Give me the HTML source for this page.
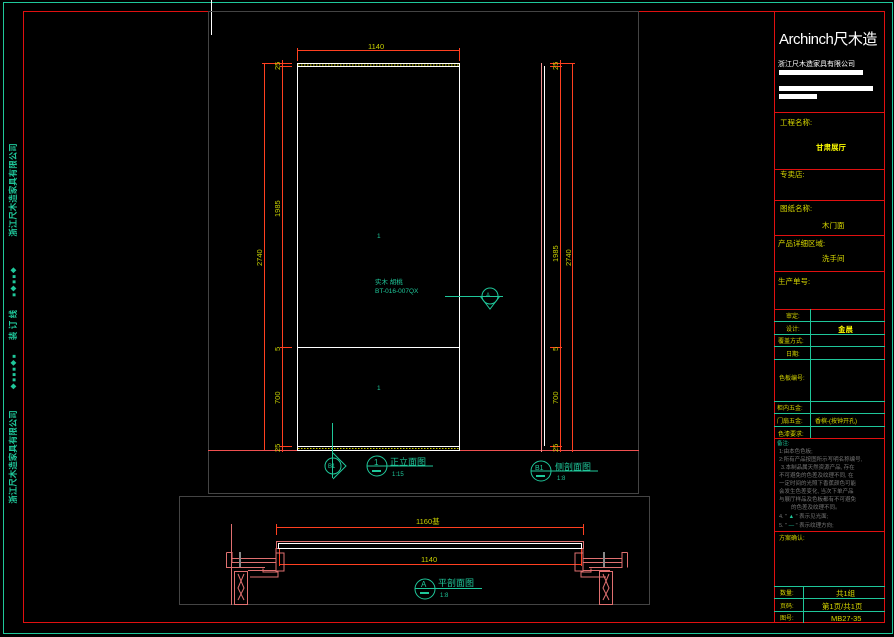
<!DOCTYPE html>
<html><head><meta charset="utf-8"><style>
html,body{margin:0;padding:0;background:#000;width:894px;height:637px;overflow:hidden}
svg{display:block}
text{font-family:"Liberation Sans","Noto Sans CJK SC",sans-serif}
</style></head><body>
<svg width="894" height="637" viewBox="0 0 894 637" xmlns="http://www.w3.org/2000/svg">
<!-- borders -->
<rect x="3.5" y="2.5" width="889" height="631" fill="none" stroke="#1fc79a" stroke-width="1"/>
<rect x="23.5" y="11.5" width="861" height="611" fill="none" stroke="#e01010" stroke-width="1"/>
<line x1="211.5" y1="0" x2="211.5" y2="35" stroke="#fff"/>
<rect x="208.5" y="11.5" width="430" height="482" fill="none" stroke="#444"/>
<rect x="179.5" y="496.5" width="470" height="108" fill="none" stroke="#444"/>

<!-- left strip text -->
<g fill="#1fc79a" font-size="8.5" font-weight="bold">
<text transform="translate(16,190) rotate(-90)" text-anchor="middle">浙江尺木造家具有限公司</text>
<text transform="translate(16,325) rotate(-90)" text-anchor="middle">装 订 线</text>
<text transform="translate(16,457) rotate(-90)" text-anchor="middle">浙江尺木造家具有限公司</text>
<text transform="translate(16,282) rotate(-90)" text-anchor="middle" font-size="6">■ ◆ ■ ■ ◆</text>
<text transform="translate(16,372) rotate(-90)" text-anchor="middle" font-size="6">◆ ■ ■ ■ ◆ ■</text>
</g>

<!-- title block -->
<g stroke="#e01010" fill="none">
<rect x="774.5" y="11.5" width="110" height="611"/>
<line x1="774" y1="112.5" x2="885" y2="112.5"/>
<line x1="774" y1="169.5" x2="885" y2="169.5"/>
<line x1="774" y1="200.5" x2="885" y2="200.5"/>
<line x1="774" y1="235.5" x2="885" y2="235.5"/>
<line x1="774" y1="271.5" x2="885" y2="271.5"/>
<line x1="774" y1="309.5" x2="885" y2="309.5"/>
<line x1="774" y1="438.5" x2="885" y2="438.5"/>
<line x1="774" y1="531.5" x2="885" y2="531.5"/>
</g>
<g stroke="#1fc79a">
<line x1="774" y1="321.5" x2="885" y2="321.5"/>
<line x1="774" y1="334.5" x2="885" y2="334.5"/>
<line x1="774" y1="346.5" x2="885" y2="346.5"/>
<line x1="774" y1="359.5" x2="885" y2="359.5"/>
<line x1="774" y1="401.5" x2="885" y2="401.5"/>
<line x1="774" y1="413.5" x2="885" y2="413.5"/>
<line x1="774" y1="426.5" x2="885" y2="426.5"/>
<line x1="810.5" y1="309" x2="810.5" y2="438"/>
<line x1="774" y1="586.5" x2="885" y2="586.5"/>
<line x1="774" y1="598.5" x2="885" y2="598.5"/>
<line x1="774" y1="611.5" x2="885" y2="611.5"/>
<line x1="803.5" y1="586" x2="803.5" y2="623"/>
</g>
<text x="779" y="44" fill="#fff" font-size="15" letter-spacing="-0.5">Archinch尺木造</text>
<text x="778" y="66" fill="#fff" font-size="7">浙江尺木造家具有限公司</text>
<rect x="779" y="70" width="84" height="5" fill="#fff"/>
<rect x="779" y="86" width="94" height="5" fill="#fff"/>
<rect x="779" y="94" width="38" height="5" fill="#fff"/>
<g fill="#d8d800" font-size="7.5">
<text x="780" y="125">工程名称:</text>
<text x="816" y="150" fill="#ffff00" font-weight="bold">甘肃展厅</text>
<text x="780" y="177">专卖店:</text>
<text x="780" y="211">图纸名称:</text>
<text x="822" y="228">木门面</text>
<text x="778" y="246">产品详细区域:</text>
<text x="822" y="261">洗手间</text>
<text x="778" y="284">生产单号:</text>
<text x="786" y="318" font-size="6">审定:</text>
<text x="786" y="331" font-size="6">设计:</text>
<text x="838" y="332" fill="#ffff00" font-weight="bold">金晨</text>
<text x="778" y="343" font-size="6">覆盖方式:</text>
<text x="786" y="356" font-size="6">日期:</text>
<text x="779" y="380" font-size="6">色板编号:</text>
<text x="777" y="410" font-size="6">柜内五金:</text>
<text x="777" y="423" font-size="6">门扇五金:</text>
<text x="815" y="423" font-size="6">香槟-(按钟开孔)</text>
<text x="778" y="436" font-size="6">色漆要求:</text>
<text x="779" y="540" font-size="6">方案确认:</text>
<text x="780" y="595" font-size="6">数量:</text>
<text x="836" y="596">共1组</text>
<text x="780" y="608" font-size="6">页码:</text>
<text x="822" y="609">第1页/共1页</text>
<text x="780" y="620" font-size="6">图号:</text>
<text x="831" y="621">MB27-35</text>
</g>
<g fill="#777" font-size="5.5">
<text x="777" y="445" fill="#1fc79a">备注:</text>
<text x="779" y="453">1:由本色色板;</text>
<text x="779" y="461">2:所有产品按图所示写明名称编号,</text>
<text x="781" y="469">3.本制品属天然资源产品, 存在</text>
<text x="779" y="477">不可避免的色差及纹理不同, 在</text>
<text x="779" y="485">一定时间的光照下香蕉颜色可能</text>
<text x="779" y="493">会发生色差变化, 当次下单产品</text>
<text x="779" y="501">与展厅样品及色板都有不可避免</text>
<text x="791" y="509">的色差及纹理不同。</text>
<text x="779" y="518">4. " <tspan fill="#1fc79a">▲</tspan> " 表示见光面;</text>
<text x="779" y="527">5. " <tspan fill="#1fc79a">—</tspan> " 表示纹理方向;</text>
</g>

<!-- front elevation -->
<line x1="208" y1="450.5" x2="639" y2="450.5" stroke="#f05050"/>
<rect x="297.5" y="63.5" width="162" height="387" fill="none" stroke="#fff"/>
<line x1="297" y1="66.5" x2="459" y2="66.5" stroke="#fff"/>
<line x1="297" y1="446.5" x2="459" y2="446.5" stroke="#fff"/>
<line x1="297" y1="347.5" x2="459" y2="347.5" stroke="#fff"/>
<line x1="298" y1="65" x2="459" y2="65" stroke="#d8d800" stroke-dasharray="1.5,1.5"/>
<line x1="298" y1="448.5" x2="459" y2="448.5" stroke="#d8d800" stroke-dasharray="1.5,1.5"/>
<g stroke="#ff4020">
<line x1="297" y1="50.5" x2="459" y2="50.5"/>
<line x1="297.5" y1="48" x2="297.5" y2="61"/>
<line x1="459.5" y1="48" x2="459.5" y2="61"/>
<line x1="264.5" y1="63" x2="264.5" y2="450"/>
<line x1="282.5" y1="60" x2="282.5" y2="452"/>
<line x1="262" y1="63.5" x2="292" y2="63.5"/>
<line x1="280" y1="66.5" x2="292" y2="66.5"/>
<line x1="280" y1="347.5" x2="292" y2="347.5"/>
<line x1="280" y1="446.5" x2="292" y2="446.5"/>
<line x1="541.5" y1="63" x2="541.5" y2="452" stroke="#f09090"/>
<line x1="560.5" y1="60" x2="560.5" y2="452"/>
<line x1="572.5" y1="63" x2="572.5" y2="452"/>
<line x1="550" y1="63.5" x2="575" y2="63.5"/>
<line x1="550" y1="66.5" x2="562" y2="66.5"/>
<line x1="550" y1="347.5" x2="562" y2="347.5"/>
<line x1="550" y1="446.5" x2="562" y2="446.5"/>
</g>
<line x1="544.5" y1="66" x2="544.5" y2="446" stroke="#fff"/>
<g fill="#c8d000" font-size="7.5">
<text x="368" y="49">1140</text>
<text transform="translate(280,70) rotate(-90)">25</text>
<text transform="translate(280,217) rotate(-90)">1985</text>
<text transform="translate(262,266) rotate(-90)">2740</text>
<text transform="translate(280,351) rotate(-90)">5</text>
<text transform="translate(280,404) rotate(-90)">700</text>
<text transform="translate(280,452) rotate(-90)">25</text>
<text transform="translate(558,70) rotate(-90)">25</text>
<text transform="translate(558,262) rotate(-90)">1985</text>
<text transform="translate(571,266) rotate(-90)">2740</text>
<text transform="translate(558,351) rotate(-90)">5</text>
<text transform="translate(558,404) rotate(-90)">700</text>
<text transform="translate(558,452) rotate(-90)">25</text>
</g>
<g fill="#1fc79a" stroke="none" font-size="6.5">
<text x="375" y="284">实木 胡桃</text>
<text x="375" y="293">BT-016-007QX</text>
<text x="377" y="238">1</text>
<text x="377" y="390">1</text>
</g>
<g stroke="#1fc79a" fill="none">
<line x1="445" y1="296.5" x2="503" y2="296.5"/>
<circle cx="490" cy="296" r="8"/>
<path d="M480 296 L490 309 L500 296"/>
<line x1="332.5" y1="423" x2="332.5" y2="478"/>
<circle cx="333" cy="466" r="8"/>
<path d="M333 453 L346 466 L333 479"/>
<circle cx="377" cy="466" r="10"/>
<line x1="367" y1="466" x2="433" y2="466"/>
<circle cx="541" cy="471" r="10"/>
<line x1="531" y1="471" x2="598" y2="471"/>
<circle cx="425" cy="589" r="10"/>
<line x1="415" y1="588.5" x2="482" y2="588.5"/>
</g>
<g fill="#1fc79a" font-size="8">
<text x="486" y="297" font-size="6">A</text>
<text x="328" y="468" font-size="6">B1</text>
<text x="374" y="465">1</text>
<text x="390" y="465" font-size="9">正立面图</text>
<text x="392" y="476" font-size="6">1:15</text>
<text x="535" y="470" font-size="7">B1</text>
<text x="555" y="470" font-size="9">侧剖面图</text>
<text x="557" y="480" font-size="6">1:8</text>
<text x="421" y="587" font-size="8">A</text>
<text x="438" y="586" font-size="9">平剖面图</text>
<text x="440" y="597" font-size="6">1:8</text>
<rect x="372" y="470" width="9" height="2"/>
<rect x="536" y="475" width="9" height="2"/>
<rect x="420" y="592" width="9" height="2"/>
</g>

<!-- plan section -->
<g stroke="#ff4020" fill="none">
<line x1="276" y1="527.5" x2="583" y2="527.5"/>
<line x1="276.5" y1="524" x2="276.5" y2="535"/>
<line x1="583.5" y1="524" x2="583.5" y2="535"/>
<line x1="279" y1="564.5" x2="581" y2="564.5"/>
<line x1="279.5" y1="548" x2="279.5" y2="566"/>
<line x1="581.5" y1="548" x2="581.5" y2="566"/>
</g>
<g fill="#c8d000" font-size="7.5">
<text x="416" y="524">1160基</text>
<text x="421" y="562">1140</text>
</g>
<rect x="276.5" y="541.5" width="307" height="7" fill="none" stroke="#e07070"/>
<rect x="278.5" y="543.5" width="303" height="5" fill="none" stroke="#fff"/>
<g stroke="#e07070" fill="none">
<line x1="231.5" y1="524" x2="231.5" y2="605"/>
<path d="M226.5 552.5 H232 V562 M226.5 552.5 V567.5 H265"/>
<path d="M232 558.5 H276 M232 562.5 H276 V570.5 H248"/>
<path d="M263 568.5 V572 H278 V577 H250"/>
<path d="M276 548 V571 H284 V553 H276"/>
<rect x="234.5" y="571.5" width="13" height="33"/>
<path d="M238 574 L244 588 L238 600 M244 574 L238 588 L244 600"/>
<path d="M627.5 552.5 H622 V567.5 H589 M627.5 552.5 V567.5"/>
<path d="M622 558.5 H583 M622 562.5 H583 V570.5 H610"/>
<path d="M591 568.5 V572 H581 V577 H606"/>
<path d="M583 548 V571 H575 V553 H583"/>
<rect x="599.5" y="571.5" width="13" height="33"/>
<path d="M603 574 L609 588 L603 600 M609 574 L603 588 L609 600"/>
</g>
<rect x="239" y="552" width="2" height="15" fill="#888"/>
<rect x="603" y="552" width="2" height="15" fill="#888"/>
</svg>
</body></html>
